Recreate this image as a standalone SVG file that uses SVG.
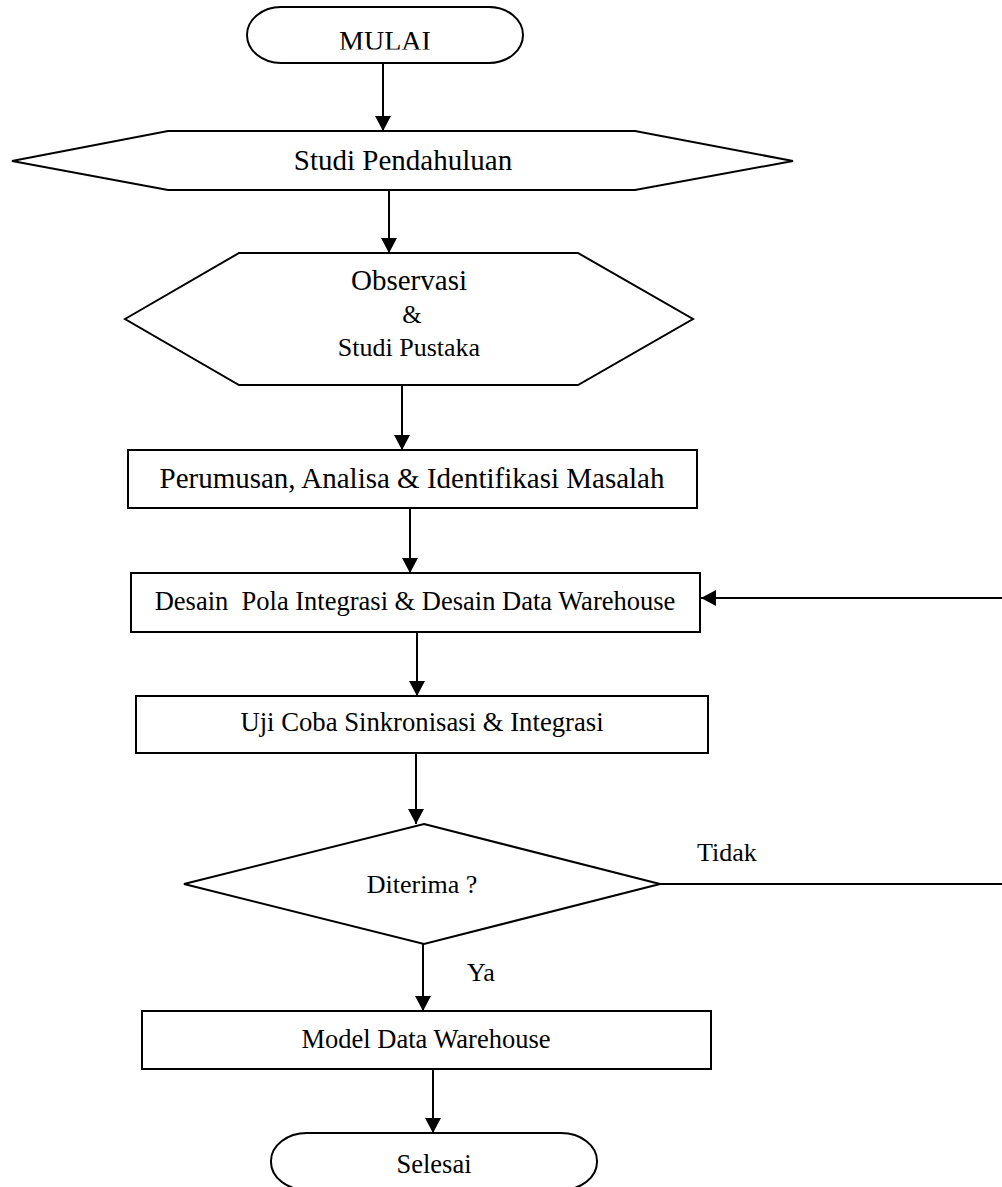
<svg xmlns="http://www.w3.org/2000/svg" width="1002" height="1187" viewBox="0 0 1002 1187">
  <style>
    .shape { fill: #ffffff; stroke: #000000; stroke-width: 2; }
    .link { fill: none; stroke: #000000; stroke-width: 2; }
    .lbl { font-family: "Liberation Serif", "Times New Roman", serif; fill: #000000; text-anchor: middle; }
    .tag { font-family: "Liberation Serif", "Times New Roman", serif; fill: #000000; }
  </style>
  <defs>
    <marker id="arrow" viewBox="0 0 16 16" markerWidth="16" markerHeight="16" refX="15" refY="8" orient="auto" markerUnits="userSpaceOnUse">
      <path d="M0,0 L15,8 L0,16 z" fill="#000000"/>
    </marker>
    <clipPath id="clipStart">
      <rect x="240" y="0" width="300" height="49.5"/>
    </clipPath>
  </defs>

  <rect width="1002" height="1187" fill="#ffffff"/>

  <!-- connectors -->
  <g id="connectors">
    <line class="link" x1="383" y1="63" x2="383" y2="131" marker-end="url(#arrow)"/>
    <line class="link" x1="389" y1="190" x2="389" y2="253" marker-end="url(#arrow)"/>
    <line class="link" x1="402" y1="385" x2="402" y2="450" marker-end="url(#arrow)"/>
    <line class="link" x1="410" y1="508" x2="410" y2="573" marker-end="url(#arrow)"/>
    <line class="link" x1="417" y1="632" x2="417" y2="696" marker-end="url(#arrow)"/>
    <line class="link" x1="416" y1="753" x2="416" y2="824" marker-end="url(#arrow)"/>
    <line class="link" x1="423" y1="944" x2="423" y2="1011" marker-end="url(#arrow)"/>
    <line class="link" x1="433" y1="1069" x2="433" y2="1133" marker-end="url(#arrow)"/>
    <!-- rejection branch back to the design step -->
    <line class="link" x1="660" y1="884" x2="1002" y2="884"/>
    <line class="link" x1="1002" y1="598" x2="701" y2="598" marker-end="url(#arrow)"/>
    <text class="tag" x="697" y="861" font-size="26">Tidak</text>
    <text class="tag" x="467" y="981" font-size="26">Ya</text>
  </g>

  <!-- start -->
  <g id="start">
    <rect class="shape" x="247" y="7" width="276" height="56" rx="34" ry="28"/>
    <text class="lbl" x="385" y="50" font-size="28" clip-path="url(#clipStart)">MULAI</text>
  </g>

  <g id="studi-pendahuluan">
    <polygon class="shape" points="12,161 168,131 635,131 793,161 635,190 168,190"/>
    <text class="lbl" x="403" y="170" font-size="29">Studi Pendahuluan</text>
  </g>

  <g id="observasi">
    <polygon class="shape" points="125,319 239,253 578,253 693,319 578,385 239,385"/>
    <text class="lbl" x="409" y="290" font-size="29">Observasi</text>
    <text class="lbl" x="412" y="323" font-size="25">&amp;</text>
    <text class="lbl" x="409" y="356" font-size="26">Studi Pustaka</text>
  </g>

  <g id="perumusan">
    <rect class="shape" x="128" y="450" width="569" height="58"/>
    <text class="lbl" x="412" y="488" font-size="29">Perumusan, Analisa &amp; Identifikasi Masalah</text>
  </g>

  <g id="desain">
    <rect class="shape" x="131" y="573" width="569" height="59"/>
    <text class="lbl" x="415" y="610" font-size="26.5" xml:space="preserve">Desain  Pola Integrasi &amp; Desain Data Warehouse</text>
  </g>

  <g id="uji-coba">
    <rect class="shape" x="136" y="696" width="572" height="57"/>
    <text class="lbl" x="422" y="731" font-size="26.7">Uji Coba Sinkronisasi &amp; Integrasi</text>
  </g>

  <g id="diterima">
    <polygon class="shape" points="424,824 660,884 424,944 184,884"/>
    <text class="lbl" x="422" y="893" font-size="26">Diterima ?</text>
  </g>

  <g id="model">
    <rect class="shape" x="142" y="1011" width="569" height="58"/>
    <text class="lbl" x="426" y="1048" font-size="26.5">Model Data Warehouse</text>
  </g>

  <g id="selesai">
    <rect class="shape" x="271" y="1133" width="326" height="57" rx="36" ry="28"/>
    <text class="lbl" x="434" y="1173" font-size="26.5">Selesai</text>
  </g>
</svg>
